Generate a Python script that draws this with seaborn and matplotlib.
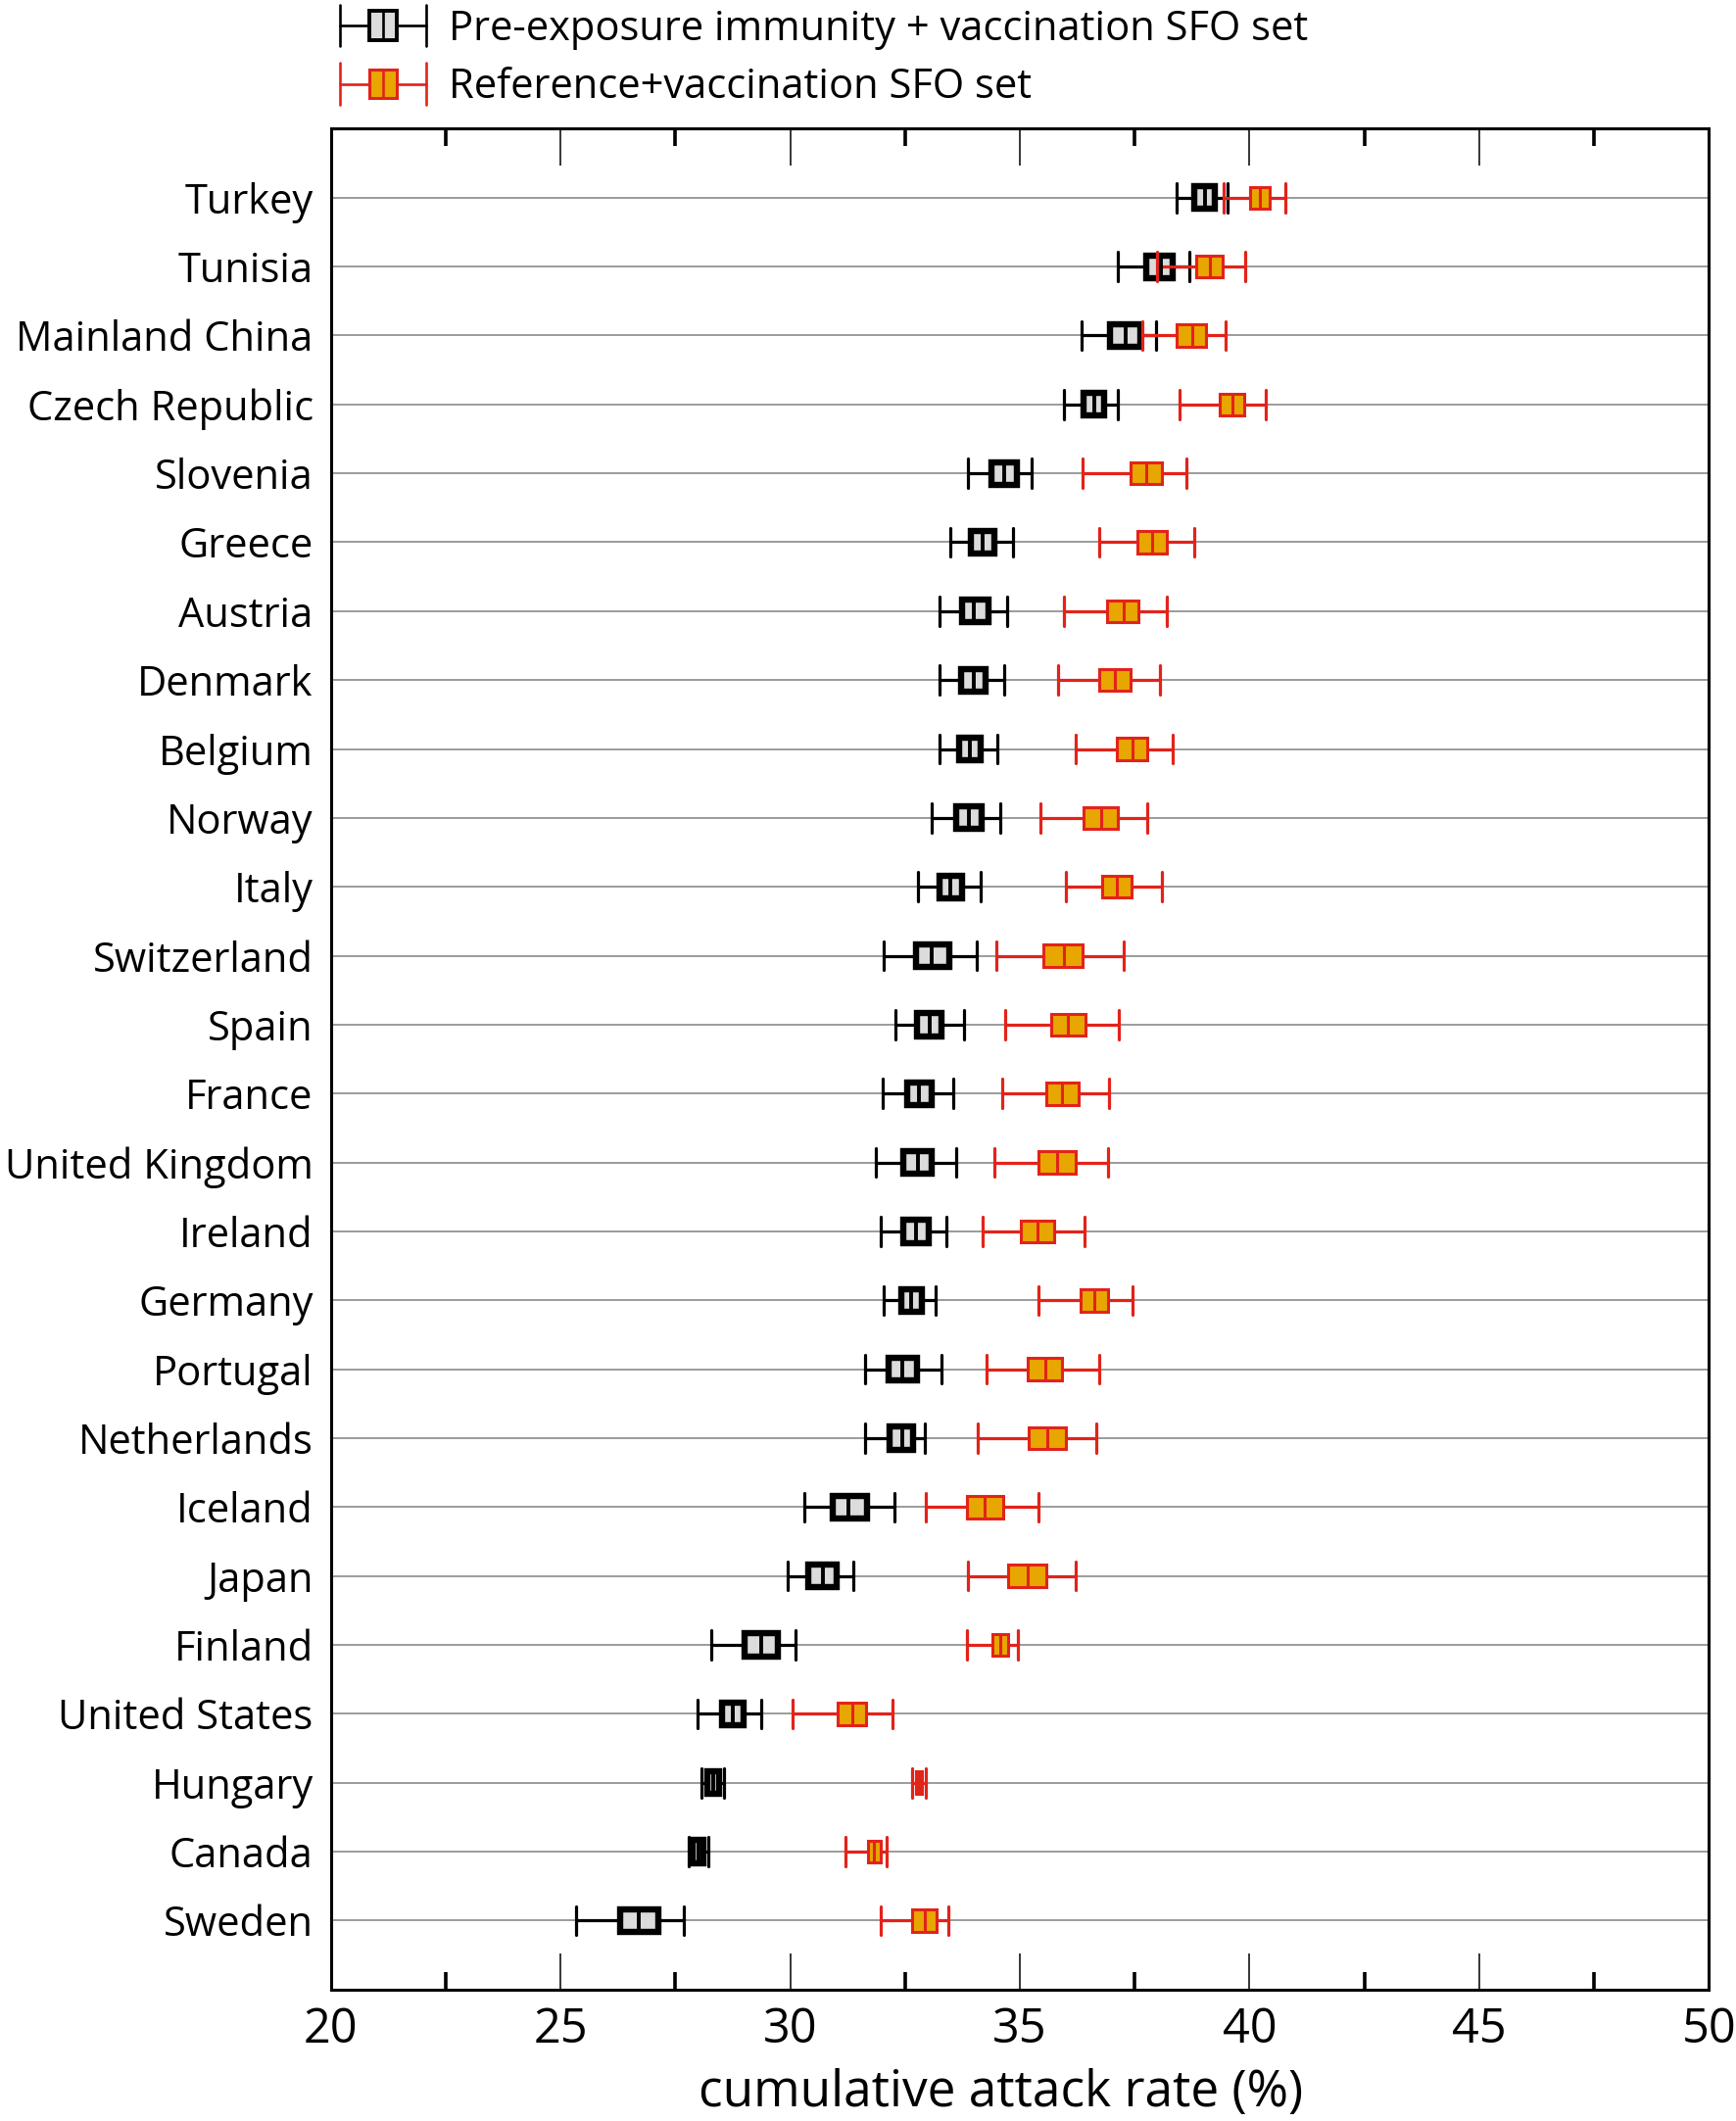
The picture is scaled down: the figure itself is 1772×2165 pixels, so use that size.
import numpy as np
import pandas as pd
import matplotlib
matplotlib.use('Agg')
import matplotlib.pyplot as plt
import seaborn as sns
from matplotlib.ticker import MultipleLocator
from matplotlib.legend_handler import HandlerBase
from matplotlib.lines import Line2D
from matplotlib.patches import Rectangle

# countries, top to bottom
countries = ['Turkey', 'Tunisia', 'Mainland China', 'Czech Republic', 'Slovenia',
             'Greece', 'Austria', 'Denmark', 'Belgium', 'Norway', 'Italy',
             'Switzerland', 'Spain', 'France', 'United Kingdom', 'Ireland',
             'Germany', 'Portugal', 'Netherlands', 'Iceland', 'Japan', 'Finland',
             'United States', 'Hungary', 'Canada', 'Sweden']

# Pre-exposure immunity + vaccination SFO set (whisker low, q1, median, q3, whisker high)
pre_lo = [38.41, 37.13, 36.35, 35.95, 33.86, 33.49, 33.24, 33.24, 33.24, 33.09, 32.79,
          32.04, 32.28, 32.01, 31.87, 31.98, 32.03, 31.62, 31.62, 30.30, 29.95, 28.29,
          27.99, 28.07, 27.80, 25.34]
pre_q1 = [38.80, 37.75, 36.97, 36.38, 34.39, 33.93, 33.75, 33.72, 33.68, 33.61, 33.24,
          32.74, 32.77, 32.54, 32.47, 32.47, 32.42, 32.15, 32.17, 30.92, 30.39, 29.00,
          28.51, 28.20, 27.88, 26.30]
pre_med = [39.03, 38.07, 37.31, 36.61, 34.66, 34.18, 34.00, 33.99, 33.91, 33.89, 33.48,
           33.09, 33.04, 32.81, 32.79, 32.74, 32.64, 32.45, 32.43, 31.27, 30.71, 29.36,
           28.74, 28.33, 28.00, 26.71]
pre_q3 = [39.25, 38.33, 37.62, 36.84, 34.93, 34.45, 34.31, 34.26, 34.15, 34.17, 33.73,
          33.47, 33.30, 33.09, 33.09, 33.01, 32.86, 32.75, 32.67, 31.67, 31.02, 29.73,
          28.98, 28.46, 28.12, 27.12]
pre_hi = [39.53, 38.69, 37.96, 37.13, 35.26, 34.84, 34.73, 34.65, 34.50, 34.57, 34.15,
          34.07, 33.79, 33.54, 33.61, 33.41, 33.17, 33.29, 32.94, 32.26, 31.38, 30.12,
          29.37, 28.56, 28.21, 27.68]

# Reference+vaccination SFO set
ref_lo = [39.43, 37.98, 37.67, 38.47, 36.37, 36.72, 35.95, 35.83, 36.22, 35.44, 36.01,
          34.49, 34.68, 34.61, 34.45, 34.18, 35.41, 34.27, 34.09, 32.95, 33.87, 33.84,
          30.05, 32.65, 31.21, 31.98]
ref_q1 = [40.01, 38.84, 38.41, 39.34, 37.40, 37.55, 36.90, 36.72, 37.12, 36.39, 36.78,
          35.51, 35.68, 35.57, 35.41, 35.03, 36.32, 35.16, 35.20, 33.85, 34.75, 34.40,
          31.03, 32.73, 31.70, 32.66]
ref_med = [40.23, 39.13, 38.75, 39.62, 37.76, 37.88, 37.25, 37.06, 37.45, 36.76, 37.11,
           35.95, 36.05, 35.92, 35.81, 35.39, 36.61, 35.55, 35.60, 34.24, 35.17, 34.57,
           31.35, 32.80, 31.83, 32.92]
ref_q3 = [40.44, 39.42, 39.06, 39.89, 38.10, 38.20, 37.59, 37.40, 37.77, 37.13, 37.44,
          36.37, 36.42, 36.28, 36.21, 35.75, 36.92, 35.92, 36.00, 34.64, 35.58, 34.74,
          31.66, 32.87, 31.96, 33.18]
ref_hi = [40.77, 39.90, 39.48, 40.36, 38.62, 38.80, 38.20, 38.04, 38.32, 37.77, 38.09,
          37.25, 37.15, 36.95, 36.92, 36.40, 37.45, 36.72, 36.67, 35.41, 36.22, 34.95,
          32.22, 32.95, 32.10, 33.45]

label_pre = 'Pre-exposure immunity + vaccination SFO set'
label_ref = 'Reference+vaccination SFO set'

RED = '#e2231a'
ORANGE = '#e8a600'
GREY_FILL = '#dcdcdc'


def long_frame(lo, q1, med, q3, hi):
    """Five summary values per country; with whis=inf the box reproduces them."""
    rows = []
    for i, c in enumerate(countries):
        for v in (lo[i], q1[i], med[i], q3[i], hi[i]):
            rows.append({'country': c, 'value': v})
    return pd.DataFrame(rows)


class BoxLegendHandler(HandlerBase):
    def __init__(self, edge, face, box_lw, line_lw):
        super().__init__()
        self.edge, self.face = edge, face
        self.box_lw, self.line_lw = box_lw, line_lw

    def create_artists(self, legend, orig_handle, xdescent, ydescent,
                       width, height, fontsize, trans):
        x0 = -xdescent
        x1 = x0 + width
        y = height / 2 - ydescent
        cap_h = height * 1.45
        bw = width * 0.32
        bh = height * 1.0
        xm = x0 + width / 2
        art = [
            Line2D([x0, x1], [y, y], color=self.edge, lw=self.line_lw),
            Line2D([x0, x0], [y - cap_h / 2, y + cap_h / 2], color=self.edge, lw=self.line_lw),
            Line2D([x1, x1], [y - cap_h / 2, y + cap_h / 2], color=self.edge, lw=self.line_lw),
            Rectangle((xm - bw / 2, y - bh / 2), bw, bh, facecolor=self.face,
                      edgecolor=self.edge, lw=self.box_lw),
            Line2D([xm, xm], [y - bh / 2, y + bh / 2], color=self.edge, lw=self.line_lw),
        ]
        for a in art:
            a.set_transform(trans)
        return art


sns.set_style('white')
plt.rcParams['font.family'] = ['Open Sans', 'DejaVu Sans']
plt.rcParams['text.color'] = 'black'
plt.rcParams['xtick.color'] = 'black'
plt.rcParams['ytick.color'] = 'black'
plt.rcParams['axes.labelcolor'] = 'black'

fig = plt.figure(figsize=(17.72, 21.65), dpi=100)
ax = fig.add_axes([0.1906, 0.062, 0.7938, 0.8773])

df_pre = long_frame(pre_lo, pre_q1, pre_med, pre_q3, pre_hi)
df_ref = long_frame(ref_lo, ref_q1, ref_med, ref_q3, ref_hi)

sns.boxplot(data=df_pre, x='value', y='country', order=countries, ax=ax,
            whis=np.inf, width=0.33, color=GREY_FILL, linecolor='black',
            saturation=1, capwidths=0.42,
            boxprops={'linewidth': 4.6}, medianprops={'linewidth': 2.8},
            whiskerprops={'linewidth': 2.3}, capprops={'linewidth': 2.3})
sns.boxplot(data=df_ref, x='value', y='country', order=countries, ax=ax,
            whis=np.inf, width=0.32, color=ORANGE, linecolor=RED,
            saturation=1, capwidths=0.42,
            boxprops={'linewidth': 2.2}, medianprops={'linewidth': 2.2},
            whiskerprops={'linewidth': 2.3}, capprops={'linewidth': 2.3})

ax.set_xlim(20, 50)
ax.set_ylim(len(countries), -1)
ax.xaxis.set_major_locator(MultipleLocator(5))
ax.xaxis.set_minor_locator(MultipleLocator(2.5))
ax.tick_params(axis='x', which='major', direction='in', top=True, bottom=True,
               length=27, width=1.1, labelsize=35, pad=12, color='black')
ax.tick_params(axis='x', which='minor', direction='in', top=True, bottom=True,
               length=13, width=2.6, color='black')
ax.tick_params(axis='y', length=0, labelsize=30, pad=13)

ax.grid(axis='y', color='#8a8a8a', linewidth=1.2)
ax.set_axisbelow(True)
for s in ax.spines.values():
    s.set_color('black')
    s.set_linewidth(2.2)

ax.set_xlabel('cumulative attack rate (%)', fontsize=37, labelpad=10,
              x=0.486, ha='center')
ax.set_ylabel('')

h_pre = Line2D([], [])
h_ref = Line2D([], [])
fig.legend([h_pre, h_ref], [label_pre, label_ref], loc='upper left',
           bbox_to_anchor=(0.196, 0.996), frameon=False, fontsize=30,
           handlelength=2.1, handletextpad=0.55, labelspacing=0.42,
           borderpad=0, borderaxespad=0,
           handler_map={h_pre: BoxLegendHandler('black', GREY_FILL, 2.8, 1.9),
                        h_ref: BoxLegendHandler(RED, ORANGE, 2.2, 1.9)})

fig.savefig('out.png', dpi=100)
